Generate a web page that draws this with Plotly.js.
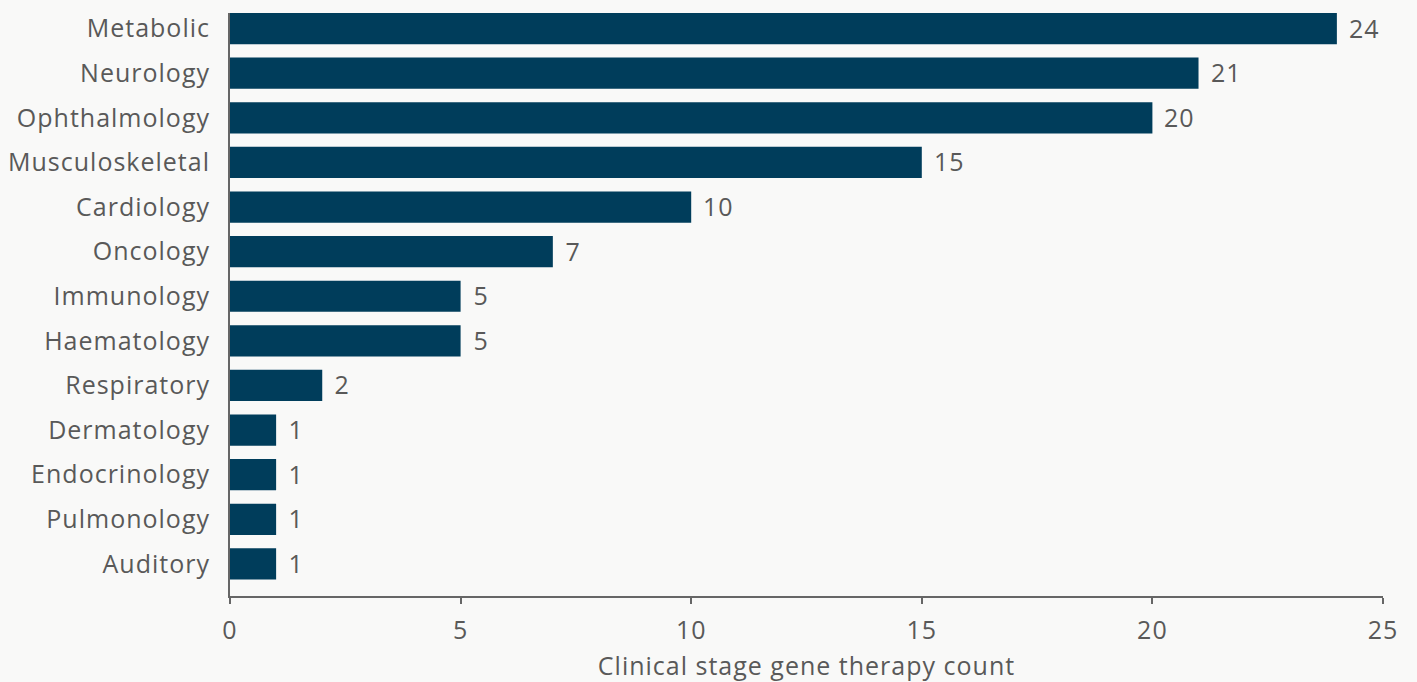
<!DOCTYPE html>
<html>
<head>
<meta charset="utf-8">
<script src="https://cdn.plot.ly/plotly-3.0.1.min.js"></script>
<style>
  html, body { margin: 0; padding: 0; background: #f9f9f8; }
  #chart { width: 1417px; height: 682px; }
  #chart svg text { letter-spacing: 1px; }
</style>
</head>
<body>
<div id="chart"></div>
<script>
// Therapeutic areas, top to bottom
const areas = ["Metabolic", "Neurology", "Ophthalmology", "Musculoskeletal", "Cardiology",
  "Oncology", "Immunology", "Haematology", "Respiratory", "Dermatology",
  "Endocrinology", "Pulmonology", "Auditory"];
const counts = [24, 21, 20, 15, 10, 7, 5, 5, 2, 1, 1, 1, 1];
const xTicks = [0, 5, 10, 15, 20, 25];

// Plotly draws categories bottom-up, so reverse for a top-down list
const yCats = areas.slice().reverse();
const xVals = counts.slice().reverse();

const textColor = "#595959";
const fontFam = "'Open Sans', Roboto, sans-serif";
const fontSize = 25;

const trace = {
  type: "bar",
  orientation: "h",
  y: yCats,
  x: xVals,
  marker: { color: "#003d5b" },
  hoverinfo: "skip"
};

// value labels just past the end of each bar
const valueLabels = yCats.map((cat, i) => ({
  x: xVals[i],
  y: cat,
  xref: "x",
  yref: "y",
  text: String(xVals[i]),
  showarrow: false,
  xanchor: "left",
  yanchor: "middle",
  xshift: 11,
  yshift: 1,
  font: { family: fontFam, size: fontSize, color: textColor }
}));

const layout = {
  width: 1417,
  height: 682,
  margin: { l: 230, r: 34, t: 13, b: 86 },
  paper_bgcolor: "#f9f9f8",
  plot_bgcolor: "#f9f9f8",
  bargap: 0.3,
  showlegend: false,
  font: { family: fontFam, color: textColor },
  annotations: valueLabels,
  xaxis: {
    range: [0, 25],
    tickvals: xTicks,
    ticktext: xTicks.map(String),
    showgrid: false,
    zeroline: false,
    showline: true,
    linecolor: "#666666",
    linewidth: 2,
    ticks: "outside",
    ticklen: 6,
    tickwidth: 2,
    tickcolor: "#666666",
    ticklabelstandoff: 5,
    tickfont: { family: fontFam, size: fontSize, color: textColor },
    title: { text: "Clinical stage gene therapy count", font: { family: fontFam, size: fontSize, color: textColor }, standoff: 13 }
  },
  yaxis: {
    type: "category",
    categoryorder: "array",
    categoryarray: yCats,
    range: [-0.72, 12.35],
    showgrid: false,
    zeroline: false,
    showline: true,
    linecolor: "#666666",
    linewidth: 2,
    ticks: "",
    ticklabelstandoff: 13,
    tickfont: { family: fontFam, size: fontSize, color: textColor }
  }
};

Plotly.newPlot("chart", [trace], layout, { displayModeBar: false, staticPlot: true });
</script>
</body>
</html>
